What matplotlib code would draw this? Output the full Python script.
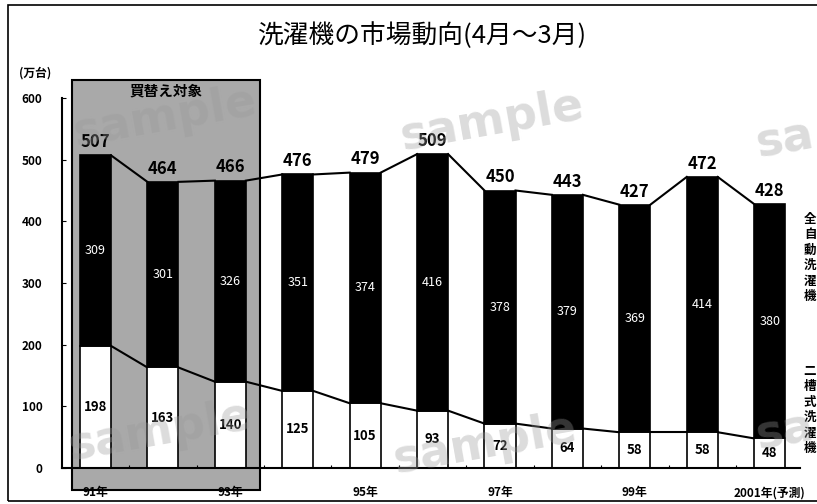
import numpy as np
import matplotlib
matplotlib.use("Agg")
import matplotlib.pyplot as plt
from matplotlib.patches import Rectangle

plt.rcParams['font.family'] = ['Noto Sans CJK JP', 'DejaVu Sans']

years = ['91年', '', '93年', '', '95年', '', '97年', '', '99年', '', '2001年(予測)']
nisou = [198, 163, 140, 125, 105, 93, 72, 64, 58, 58, 48]          # 二槽式洗濯機
zenjidou = [309, 301, 326, 351, 374, 416, 378, 379, 369, 414, 380]  # 全自動洗濯機
totals = [507, 464, 466, 476, 479, 509, 450, 443, 427, 472, 428]

W, H = 817, 504
fig = plt.figure(figsize=(W / 100, H / 100), dpi=100)

def fx(px):
    return px / W

def fy(py):
    return 1 - py / H

# outer frame
fig.add_artist(Rectangle((fx(8), fy(501)), fx(830) - fx(8), fy(5) - fy(501),
                         transform=fig.transFigure, fill=False, lw=1.2, ec='black'))

ax = fig.add_axes([fx(62), fy(468), fx(800) - fx(62), fy(98) - fy(468)])
ax.set_xlim(-0.497, 10.45)
ax.set_ylim(0, 600)

x = np.arange(len(totals))
w = 0.46
bot = np.array(nisou)
top = np.array(zenjidou)

# gray "買替え対象" box
ax.add_patch(Rectangle((-0.35, -36), 2.79, 666, fc='#a9a9a9', ec='black', lw=1.5,
                       clip_on=False, zorder=0))
ax.text(1.05, 612, '買替え対象', ha='center', va='center', fontsize=10.5,
        fontweight='bold', zorder=5)

ax.bar(x, bot, w, color='white', edgecolor='black', lw=1.2, zorder=3)
ax.bar(x, top, w, bottom=bot, color='black', edgecolor='black', lw=1.2, zorder=3)

# connecting lines
for i in range(len(x) - 1):
    xs = [x[i] + w / 2, x[i + 1] - w / 2]
    ax.plot(xs, [totals[i], totals[i + 1]], color='black', lw=1.5, zorder=2)
    ax.plot(xs, [bot[i], bot[i + 1]], color='black', lw=1.5, zorder=2)

for i in range(len(x)):
    ax.annotate(str(totals[i]), (x[i], totals[i]), xytext=(0, 3),
                textcoords='offset points', ha='center', va='bottom',
                fontsize=12, fontweight='bold', zorder=6)
    ax.text(x[i], bot[i] + top[i] / 2, str(top[i]), ha='center', va='center',
            color='white', fontsize=9, zorder=6)
    ax.text(x[i], bot[i] / 2, str(bot[i]), ha='center', va='center',
            fontsize=9.5, fontweight='bold', zorder=6)

for s in ['top', 'right']:
    ax.spines[s].set_visible(False)
ax.spines['left'].set_linewidth(1.5)
ax.spines['bottom'].set_linewidth(1.5)
ax.spines['left'].set_zorder(4)
ax.spines['bottom'].set_zorder(4)
ax.set_yticks(range(0, 601, 100))
ax.set_yticklabels([str(v) for v in range(0, 601, 100)], fontsize=8.5, fontweight='bold')
ax.tick_params(axis='y', direction='in', length=3, pad=14)
ax.set_xticks(x[:-1] + 0.5)
ax.set_xticklabels([])
ax.tick_params(axis='x', direction='in', length=2)

for i, lab in enumerate(years):
    if lab:
        ax.text(x[i], -40, lab, ha='center', va='center', fontsize=8.5,
                fontweight='bold', clip_on=False, zorder=6)

fig.text(fx(35), fy(73), '(万台)', ha='center', va='center', fontsize=8.5, fontweight='bold')
fig.text(fx(422), fy(36), '洗濯機の市場動向(4月～3月)', ha='center', va='center', fontsize=18.5)

fig.text(fx(810), fy(258), '\n'.join('全自動洗濯機'), ha='center', va='center',
         fontsize=9, fontweight='bold', linespacing=1.25)
fig.text(fx(810), fy(410), '\n'.join('二槽式洗濯機'), ha='center', va='center',
         fontsize=9, fontweight='bold', linespacing=1.25)

# watermarks
for (px, py, txt) in [(165, 118, 'sample'), (492, 122, 'sample'), (785, 140, 'sa'),
                      (160, 432, 'sample'), (485, 445, 'sample'), (785, 432, 'sa')]:
    fig.text(fx(px), fy(py), txt, ha='center', va='center', fontsize=33,
             fontweight='bold', color='#9a9a9a', alpha=0.35, rotation=10,
             family='DejaVu Sans', zorder=10)

fig.savefig('out.png', dpi=100)
